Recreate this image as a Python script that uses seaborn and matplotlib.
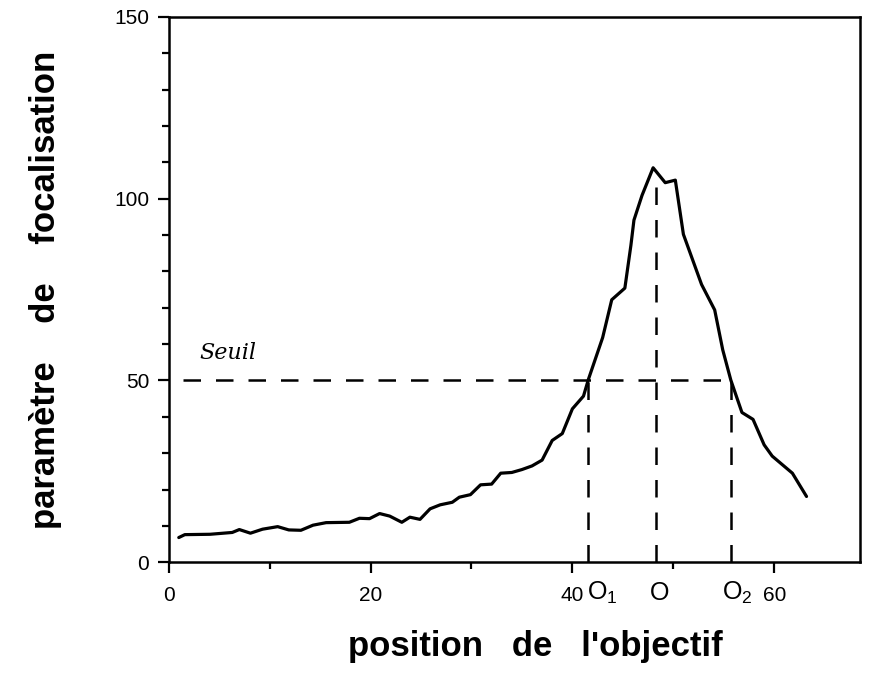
import matplotlib
matplotlib.use("Agg")
import numpy as np
import pandas as pd
import seaborn as sns
from matplotlib import pyplot as plt

# focus curve
position = [1.0, 1.6, 4.1, 6.3, 7.0, 8.1, 9.3, 10.8, 11.9, 13.1, 14.3, 15.6,
            17.9, 18.9, 19.9, 20.9, 21.9, 23.1, 23.9, 24.9, 25.9, 26.9, 28.1,
            28.8, 29.9, 30.9, 32.0, 32.9, 34.0, 35.0, 36.0, 37.0, 38.0, 39.0,
            40.0, 41.1, 41.6, 43.0, 43.9, 45.2, 45.8, 46.1, 46.9, 48.0, 49.2,
            50.2, 51.0, 52.8, 54.1, 54.9, 55.7, 56.8, 57.9, 59.0, 59.8, 61.8,
            63.2]
focus = [6.8, 7.6, 7.7, 8.2, 9.0, 8.0, 9.1, 9.8, 8.9, 8.8, 10.2, 10.9,
         11.0, 12.1, 12.0, 13.4, 12.7, 11.0, 12.4, 11.8, 14.7, 15.8, 16.5,
         17.9, 18.6, 21.3, 21.5, 24.5, 24.7, 25.5, 26.5, 28.1, 33.5, 35.4,
         42.2, 45.7, 50.4, 61.8, 72.2, 75.4, 87.2, 94.1, 100.9, 108.5, 104.4,
         105.1, 90.2, 76.4, 69.4, 58.4, 50.1, 41.2, 39.3, 32.3, 29.2, 24.5,
         18.1]

seuil = 50
seuil_start = 1.4
o1_pos = 41.5
o_pos = 48.3
o2_pos = 55.7
o_top = 106

x_ticks = [0, 20, 40, 60]
y_ticks = [0, 50, 100, 150]

df = pd.DataFrame({"position": position, "focus": focus})

sns.set_style("ticks", {"axes.edgecolor": "black", "xtick.color": "black",
                        "ytick.color": "black", "text.color": "black",
                        "axes.labelcolor": "black"})
plt.rcParams["font.family"] = ["Liberation Sans", "DejaVu Sans"]

fig = plt.figure(figsize=(8.74, 6.75), dpi=100)
ax = fig.add_axes([0.193, 0.167, 0.791, 0.808])

sns.lineplot(data=df, x="position", y="focus", ax=ax, color="black",
             linewidth=2.3, sort=False)

dash = (0, (7, 6))
ax.plot([seuil_start, o2_pos], [seuil, seuil], color="black", lw=1.8, ls=dash)
ax.plot([o1_pos, o1_pos], [0, seuil], color="black", lw=1.8, ls=dash)
ax.plot([o2_pos, o2_pos], [0, seuil], color="black", lw=1.8, ls=dash)
ax.plot([o_pos, o_pos], [0, o_top], color="black", lw=1.8, ls=dash)

ax.set_xlim(0, 68.5)
ax.set_ylim(0, 150)
ax.set_xticks(x_ticks)
ax.set_yticks(y_ticks)
ax.set_xticks(np.arange(10, 61, 20), minor=True)
ax.set_yticks([v for v in range(10, 150, 10) if v % 50], minor=True)
ax.tick_params(which="major", length=8, width=1.6, labelsize=15,
               direction="out", colors="black")
ax.tick_params(axis="x", which="major", pad=9)
ax.tick_params(axis="y", which="major", pad=6)
ax.tick_params(which="minor", length=5, width=1.6, direction="out")
for s in ax.spines.values():
    s.set_linewidth(1.8)
    s.set_color("black")
    s.set_visible(True)

ax.set_xlabel("position   de   l'objectif", fontsize=25, fontweight="bold")
ax.set_ylabel("paramètre    de    focalisation", fontsize=25, fontweight="bold")
ax.xaxis.set_label_coords(0.53, -0.125)
ax.yaxis.set_label_coords(-0.155, 0.5)

# handwritten annotations
ax.text(3.0, 56, "Seuil", fontsize=16, style="italic", family="DejaVu Serif")
ax.text(43.0, -8.5, r"$\mathregular{O_1}$", fontsize=18, ha="center",
        va="center", clip_on=False)
ax.text(o_pos + 0.3, -8.5, "O", fontsize=18, ha="center", va="center",
        clip_on=False)
ax.text(56.3, -8.5, r"$\mathregular{O_2}$", fontsize=18, ha="center",
        va="center", clip_on=False)

fig.savefig("out.png", dpi=100)
